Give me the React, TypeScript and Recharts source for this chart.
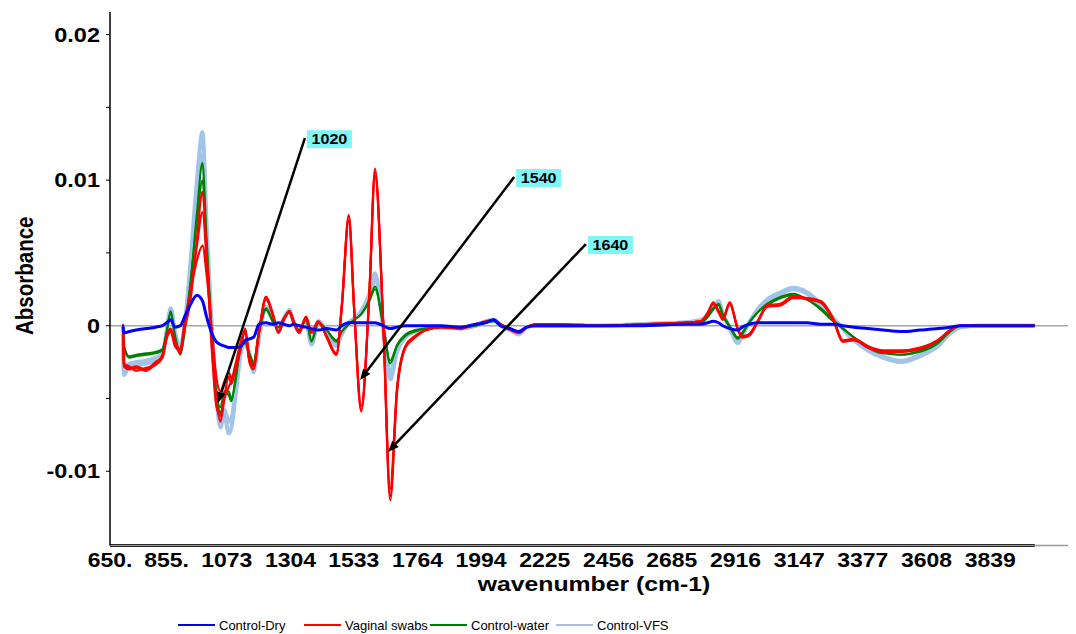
import React from 'react';
import { LineChart, Line, XAxis, YAxis, ReferenceLine, Legend } from 'recharts';

const FONT = '"Liberation Sans", Arial, sans-serif';

// wavenumber grid (cm-1), denser where the bands are
const wavenumbers = [
  695, 697, 700, 720, 745, 780, 815, 840, 855, 870,
  885, 905, 920, 940, 965, 985, 1000, 1020, 1035, 1050,
  1065, 1080, 1090, 1105, 1125, 1140, 1155, 1170, 1190, 1215,
  1240, 1260, 1280, 1300, 1315, 1335, 1360, 1380, 1405, 1435,
  1470, 1490, 1515, 1535, 1560, 1590, 1610, 1640, 1665, 1690,
  1720, 1755, 1795, 1850, 1920, 1975, 2010, 2040, 2065, 2100,
  2130, 2160, 2190, 2280, 2425, 2570, 2715, 2790, 2815, 2835,
  2855, 2870, 2895, 2925, 2940, 2965, 2995, 3030, 3080, 3125,
  3175, 3225, 3270, 3305, 3345, 3395, 3450, 3515, 3585, 3650,
  3695, 3730, 3800, 3875, 4000,
];

const controlDry = [
  0, 0, -0.0005, -0.0004, -0.0003, -0.0002, -0.0001, 0, 0.0002, 0.0004,
  -0.0001, 0, 0.0006, 0.0014, 0.0021, 0.0017, 0.0006, -0.0006, -0.0011, -0.0013,
  -0.0014, -0.0015, -0.0015, -0.0015, -0.0014, -0.001, -0.0009, -0.0008, 0.0001, 0.0002,
  0.0001, 0.0002, 0.0001, 0, 0.0001, 0, -0.0001, -0.0002, -0.0003, -0.0002,
  -0.0003, 0, 0.0002, 0.0002, 0.0002, 0.0002, 0.0002, 0, -0.0002, -0.0001,
  0, 0, 0, 0, -0.0001, 0.0001, 0.0002, 0.0004, 0, -0.0002,
  -0.0004, -0.0001, 0, 0, 0, 0, 0.0001, 0.0001, 0.0002, 0.0003,
  0.0002, 0, -0.0002, -0.0003, -0.0001, 0.0001, 0.0002, 0.0002, 0.0002, 0.0002,
  0.0002, 0.0001, 0.0001, 0, -0.0001, -0.0002, -0.0003, -0.0004, -0.0003, -0.0002,
  -0.0001, 0, 0, 0, 0,
];

const swabs1 = [
  0, 0, -0.0028, -0.003, -0.0029, -0.0031, -0.0026, -0.002, -0.0008, -0.0003,
  -0.0012, -0.0019, -0.0002, 0.0015, 0.006, 0.0092, 0.005, -0.0015, -0.005, -0.0066,
  -0.005, -0.0042, -0.0038, -0.003, -0.0015, -0.0002, -0.0025, -0.003, -0.0005, 0.002,
  0.0008, -0.0005, 0.0004, 0.001, 0.0003, -0.0005, 0.0006, -0.0004, 0.0003, -0.0008,
  -0.002, 0.0015, 0.0076, 0.001, -0.0059, 0.0025, 0.0108, 0, -0.012, -0.0045,
  -0.0015, -0.0008, -0.0003, -0.0001, -0.0002, 0.0001, 0.0002, 0.0004, 0.0001, -0.0003,
  -0.0005, -0.0001, 0.0001, 0.0001, 0, 0.0001, 0.0002, 0.0003, 0.0008, 0.0016,
  0.001, 0.0005, 0.0016, -0.0003, -0.0008, -0.0007, 0.0002, 0.0014, 0.0015, 0.002,
  0.0019, 0.0016, 0.0004, -0.0011, -0.001, -0.0015, -0.0018, -0.0018, -0.0016, -0.001,
  -0.0003, 0, 0, 0, 0,
];

const swabs2 = [
  0, 0, -0.0026, -0.0028, -0.0031, -0.0029, -0.0027, -0.0022, -0.0009, -0.0004,
  -0.0014, -0.0017, 0, 0.002, 0.0055, 0.0078, 0.0045, -0.002, -0.0055, -0.0062,
  -0.0048, -0.0035, -0.004, -0.0028, -0.0012, -0.0004, -0.0022, -0.0027, -0.0003, 0.0018,
  0.0007, -0.0004, 0.0005, 0.0009, 0.0002, -0.0004, 0.0005, -0.0005, 0.0002, -0.0007,
  -0.0019, 0.0013, 0.0072, 0.0009, -0.0055, 0.0023, 0.0103, 0.0002, -0.0112, -0.0042,
  -0.0014, -0.0007, -0.0003, -0.0001, -0.0001, 0.0001, 0.0003, 0.0004, 0.0001, -0.0002,
  -0.0005, -0.0001, 0.0001, 0.0001, 0, 0.0001, 0.0002, 0.0003, 0.0009, 0.0015,
  0.0009, 0.0004, 0.0015, -0.0002, -0.0007, -0.0006, 0.0003, 0.0013, 0.0014, 0.0019,
  0.0019, 0.0017, 0.0005, -0.001, -0.0009, -0.0014, -0.0017, -0.0017, -0.0015, -0.001,
  -0.0003, 0, 0, 0, 0,
];

const swabs3 = [
  0, 0, -0.0027, -0.0029, -0.0028, -0.003, -0.0025, -0.0021, -0.0007, -0.0002,
  -0.0011, -0.0016, 0.0002, 0.0022, 0.0045, 0.0055, 0.0035, -0.0005, -0.0035, -0.0045,
  -0.0038, -0.0032, -0.0036, -0.0026, -0.001, -0.0003, -0.0024, -0.0028, -0.0004, 0.0019,
  0.0008, -0.0005, 0.0004, 0.001, 0.0003, -0.0005, 0.0006, -0.0004, 0.0003, -0.0008,
  -0.002, 0.0014, 0.0075, 0.001, -0.0058, 0.0024, 0.0106, 0.0001, -0.0117, -0.0044,
  -0.0015, -0.0008, -0.0003, -0.0001, -0.0002, 0.0001, 0.0002, 0.0004, 0.0001, -0.0002,
  -0.0005, -0.0001, 0.0001, 0.0001, 0, 0.0001, 0.0002, 0.0003, 0.0008, 0.0015,
  0.001, 0.0005, 0.0015, -0.0003, -0.0008, -0.0006, 0.0002, 0.0013, 0.0015, 0.002,
  0.0018, 0.0016, 0.0004, -0.0011, -0.001, -0.0015, -0.0018, -0.0018, -0.0016, -0.001,
  -0.0003, 0, 0, 0, 0,
];

const water1 = [
  0, 0, -0.0013, -0.0021, -0.002, -0.0019, -0.0018, -0.0016, -0.0004, 0.001,
  -0.0006, -0.0019, -0.0004, 0.0025, 0.0078, 0.0112, 0.006, -0.001, -0.0045, -0.006,
  -0.0048, -0.0045, -0.005, -0.0038, -0.0014, -0.0012, -0.002, -0.0026, -0.0005, 0.0012,
  0.0003, -0.0001, 0.0005, 0.001, 0.0003, -0.0003, 0.0004, -0.0011, 0.0002, -0.0003,
  -0.0011, -0.0004, 0.0001, 0.0004, 0.0008, 0.0018, 0.0027, 0, -0.0026, -0.0014,
  -0.0007, -0.0004, -0.0002, -0.0001, -0.0001, 0, 0.0002, 0.0003, 0, -0.0002,
  -0.0004, -0.0001, 0, 0, 0, 0, 0.0001, 0.0002, 0.0006, 0.0011,
  0.0015, 0.0008, 0, -0.0008, -0.0005, 0.0002, 0.0009, 0.0015, 0.002, 0.0022,
  0.0018, 0.0011, 0.0003, -0.0002, -0.0008, -0.0014, -0.0018, -0.002, -0.0017, -0.0011,
  -0.0003, 0, 0, 0, 0,
];

const water2 = [
  0, 0, -0.0015, -0.0022, -0.0021, -0.002, -0.0019, -0.0017, -0.0005, 0.0009,
  -0.0007, -0.002, -0.0003, 0.0028, 0.0072, 0.01, 0.0055, -0.0012, -0.0048, -0.0056,
  -0.0045, -0.0048, -0.0052, -0.0035, -0.0013, -0.0011, -0.0019, -0.0025, -0.0004, 0.0011,
  0.0003, -0.0001, 0.0005, 0.0009, 0.0002, -0.0003, 0.0004, -0.001, 0.0002, -0.0003,
  -0.001, -0.0004, 0.0001, 0.0004, 0.0008, 0.0017, 0.0025, 0, -0.0024, -0.0013,
  -0.0006, -0.0003, -0.0002, -0.0001, -0.0001, 0, 0.0002, 0.0003, 0, -0.0002,
  -0.0004, -0.0001, 0, 0, 0, 0, 0.0001, 0.0002, 0.0006, 0.0012,
  0.0014, 0.0007, -0.0001, -0.0009, -0.0006, 0.0002, 0.0009, 0.0014, 0.0019, 0.0021,
  0.0018, 0.0012, 0.0004, -0.0002, -0.0008, -0.0015, -0.0019, -0.002, -0.0018, -0.0012,
  -0.0004, 0, 0, 0, 0,
];

const vfs1 = [
  0, 0, -0.0034, -0.0028, -0.0027, -0.0026, -0.0024, -0.0021, -0.0004, 0.0012,
  -0.0004, -0.0014, 0, 0.004, 0.01, 0.0133, 0.007, -0.0005, -0.0045, -0.0065,
  -0.0062, -0.0074, -0.007, -0.0048, -0.0018, -0.0012, -0.002, -0.0032, -0.0008, 0.0012,
  0.0004, -0.0002, 0.0005, 0.001, 0.0003, -0.0004, 0.0004, -0.0013, 0.0003, -0.0004,
  -0.0014, -0.0006, 0.0002, 0.0005, 0.001, 0.0022, 0.0036, -0.0002, -0.0037, -0.0018,
  -0.0008, -0.0004, -0.0002, -0.0001, -0.0002, 0, 0.0003, 0.0004, 0, -0.0003,
  -0.0006, -0.0001, 0, 0, 0, 0.0001, 0.0002, 0.0004, 0.0007, 0.0012,
  0.0017, 0.0008, -0.0002, -0.0012, -0.0007, 0.0002, 0.0011, 0.0018, 0.0023, 0.0026,
  0.0023, 0.0015, 0.0005, -0.0002, -0.001, -0.0017, -0.0022, -0.0025, -0.0021, -0.0014,
  -0.0005, -0.0001, 0, 0, 0,
];

const vfs2 = [
  0, 0, -0.003, -0.0026, -0.0025, -0.0024, -0.0022, -0.0019, -0.0005, 0.0011,
  -0.0005, -0.0016, -0.0001, 0.0035, 0.009, 0.0118, 0.0062, -0.0008, -0.0048, -0.007,
  -0.0058, -0.0066, -0.0064, -0.0044, -0.0016, -0.0011, -0.0019, -0.0029, -0.0007, 0.0013,
  0.0004, -0.0002, 0.0005, 0.0011, 0.0003, -0.0004, 0.0004, -0.0012, 0.0003, -0.0004,
  -0.0013, -0.0005, 0.0002, 0.0005, 0.0009, 0.002, 0.0032, -0.0001, -0.0033, -0.0016,
  -0.0007, -0.0004, -0.0002, -0.0001, -0.0002, 0, 0.0003, 0.0004, 0, -0.0003,
  -0.0005, -0.0001, 0, 0, 0, 0.0001, 0.0002, 0.0003, 0.0007, 0.0012,
  0.0016, 0.0008, -0.0001, -0.0011, -0.0006, 0.0002, 0.001, 0.0017, 0.0022, 0.0025,
  0.0022, 0.0014, 0.0005, -0.0002, -0.001, -0.0016, -0.0021, -0.0024, -0.002, -0.0013,
  -0.0005, -0.0001, 0, 0, 0,
];

const xTicks = [650, 855, 1073, 1304, 1533, 1764, 1994, 2225, 2456, 2685, 2916, 3147, 3377, 3608, 3839];
const xTickLabels = ['650.', '855.', '1073', '1304', '1533', '1764', '1994', '2225', '2456', '2685', '2916', '3147', '3377', '3608', '3839'];
const yTicks = [-0.01, -0.005, 0, 0.005, 0.01, 0.015, 0.02];
const yTickLabels = ['-0.01', '', '0', '', '0.01', '', '0.02'];

const xDomain = [650, 4135];
const yDomain = [-0.0151, 0.02155];

const groups = [
  { name: 'Control-Dry', color: '#0000ff' },
  { name: 'Vaginal swabs', color: '#ff0000' },
  { name: 'Control-water', color: '#008000' },
  { name: 'Control-VFS', color: '#a2c4e8' },
];

// drawn bottom to top
const traces = [
  { key: 'vfs1', values: vfs1, group: 3, width: 4 },
  { key: 'vfs2', values: vfs2, group: 3, width: 4 },
  { key: 'water1', values: water1, group: 2, width: 2 },
  { key: 'water2', values: water2, group: 2, width: 2 },
  { key: 'swabs1', values: swabs1, group: 1, width: 2.2 },
  { key: 'swabs2', values: swabs2, group: 1, width: 2.2 },
  { key: 'swabs3', values: swabs3, group: 1, width: 2.2 },
  { key: 'dry', values: controlDry, group: 0, width: 3 },
];

const peakLabels = [
  { label: '1020', from: { x: 1356, y: 0.01288 }, to: { x: 1041, y: -0.00531 } },
  { label: '1540', from: { x: 2114, y: 0.01021 }, to: { x: 1556, y: -0.00373 } },
  { label: '1640', from: { x: 2374, y: 0.00561 }, to: { x: 1657, y: -0.00867 } },
];

const table = wavenumbers.map((w, i) => {
  const row: Record<string, number> = { w };
  traces.forEach((t) => {
    row[t.key] = t.values[i];
  });
  return row;
});

// text in this figure is slightly wide, so stretch it horizontally
const STRETCH = 1.12;

const renderXTick = (props: any) => {
  const { x, y, payload } = props;
  const label = xTickLabels[xTicks.indexOf(payload.value)];
  return (
    <text
      transform={`translate(${x},${y + 21}) scale(${STRETCH},1)`}
      textAnchor="middle"
      fontSize={20.5}
      fontWeight="bold"
      fill="#000"
      fontFamily={FONT}
    >
      {label}
    </text>
  );
};

const renderYTick = (props: any) => {
  const { x, y, payload } = props;
  const label = yTickLabels[yTicks.indexOf(payload.value)];
  return (
    <text
      transform={`translate(${x},${y}) scale(${STRETCH},1)`}
      textAnchor="end"
      dominantBaseline="central"
      fontSize={21}
      fontWeight="bold"
      fill="#000"
      fontFamily={FONT}
    >
      {label}
    </text>
  );
};

const renderXLabel = (props: any) => {
  const vb = props.viewBox;
  return (
    <text
      transform={`translate(${vb.x + vb.width / 2 + 3},${vb.y + 45.5}) scale(1.18,1)`}
      textAnchor="middle"
      fontSize={21}
      fontWeight="bold"
      fill="#000"
      fontFamily={FONT}
    >
      wavenumber (cm-1)
    </text>
  );
};

const renderYLabel = (props: any) => {
  const vb = props.viewBox;
  return (
    <text
      transform={`translate(${vb.x + 25},${vb.y + vb.height / 2 - 3}) rotate(-90) scale(1,1.15)`}
      textAnchor="middle"
      dominantBaseline="central"
      fontSize={20.5}
      fontWeight="bold"
      fill="#000"
      fontFamily={FONT}
    >
      Absorbance
    </text>
  );
};

// leader line with arrowhead at the band, boxed label at the tail
const arrowShape = (label: string) => (props: any) => {
  const { x1, y1, x2, y2 } = props;
  const ang = Math.atan2(y2 - y1, x2 - x1);
  const len = 11;
  const half = 4.5;
  const bx = x2 - len * Math.cos(ang);
  const by = y2 - len * Math.sin(ang);
  const px = -Math.sin(ang) * half;
  const py = Math.cos(ang) * half;
  return (
    <g>
      <line x1={x1} y1={y1} x2={bx} y2={by} stroke="#000" strokeWidth={2.5} />
      <polygon points={`${x2},${y2} ${bx + px},${by + py} ${bx - px},${by - py}`} fill="#000" />
      <rect x={x1 + 2} y={y1 - 8} width={45} height={18} fill="#80f5f5" />
      <text
        transform={`translate(${x1 + 24.5},${y1 + 1}) scale(1.15,1)`}
        textAnchor="middle"
        dominantBaseline="central"
        fontSize={14}
        fontWeight="bold"
        fill="#000"
        fontFamily={FONT}
      >
        {label}
      </text>
    </g>
  );
};

const LegendBox = () => (
  <div style={{ display: 'flex', alignItems: 'center', height: 24, paddingLeft: 178, fontFamily: FONT, fontSize: 13, color: '#000' }}>
    {groups.map((g) => (
      <div key={g.name} style={{ width: 126, display: 'flex', alignItems: 'center' }}>
        <svg width={37} height={4}>
          <line x1={0} y1={2} x2={37} y2={2} stroke={g.color} strokeWidth={2} />
        </svg>
        <span style={{ marginLeft: 4, whiteSpace: 'nowrap' }}>{g.name}</span>
      </div>
    ))}
  </div>
);

export default function App() {
  return (
    <div style={{ marginLeft: -8, marginTop: -8, width: 1076, height: 634, background: '#fff' }}>
      <LineChart
        width={1076}
        height={634}
        data={table}
        margin={{ top: 12, right: 4, bottom: 4.5, left: 0 }}
        style={{ fontFamily: FONT }}
      >
        <XAxis
          type="number"
          dataKey="w"
          domain={xDomain}
          ticks={xTicks}
          interval={0}
          tick={renderXTick}
          tickLine={false}
          tickSize={0}
          tickMargin={0}
          height={60}
          axisLine={{ stroke: '#9a9a9a', strokeWidth: 1.5 }}
          label={renderXLabel}
          allowDataOverflow
        />
        <YAxis
          type="number"
          domain={yDomain}
          ticks={yTicks}
          interval={0}
          tick={renderYTick}
          tickSize={4}
          tickMargin={6}
          width={110}
          axisLine={{ stroke: '#000', strokeWidth: 1.5 }}
          tickLine={{ stroke: '#000', strokeWidth: 1 }}
          label={renderYLabel}
          allowDataOverflow
        />
        <ReferenceLine y={0} stroke="#a8a8a8" strokeWidth={1.5} />
        <ReferenceLine
          segment={[
            { x: xDomain[0], y: yDomain[0] },
            { x: wavenumbers[wavenumbers.length - 1], y: yDomain[0] },
          ]}
          stroke="#000"
          strokeWidth={3}
        />
        {traces.map((t) => (
          <Line
            key={t.key}
            type="monotone"
            dataKey={t.key}
            stroke={groups[t.group].color}
            strokeWidth={t.width}
            dot={false}
            legendType="none"
            isAnimationActive={false}
          />
        ))}
        {peakLabels.map((p) => (
          <ReferenceLine key={p.label} segment={[p.from, p.to]} shape={arrowShape(p.label)} ifOverflow="visible" />
        ))}
        <Legend content={LegendBox} wrapperStyle={{ top: 613, left: 0, bottom: 'auto', width: 1076 }} />
      </LineChart>
    </div>
  );
}
